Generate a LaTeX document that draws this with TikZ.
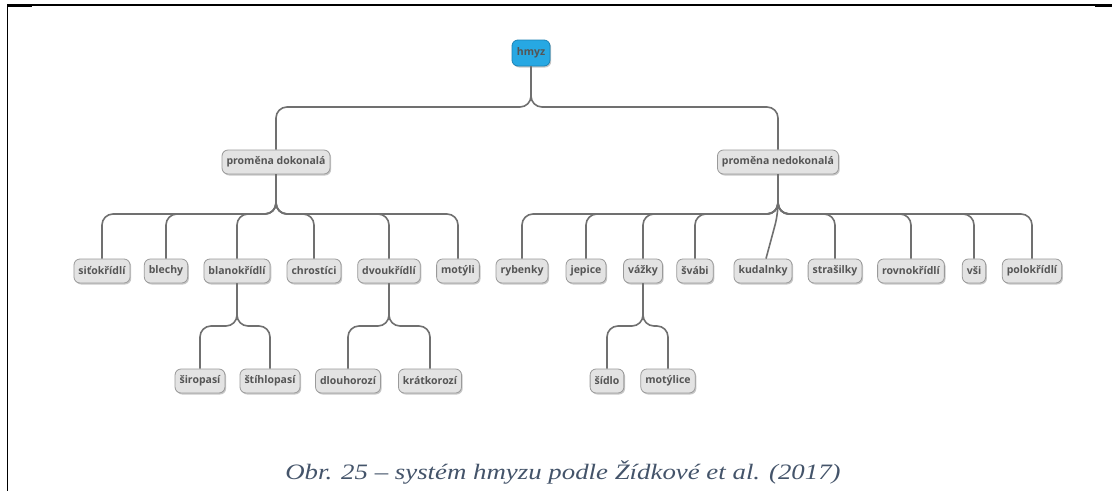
\documentclass[tikz,border=0pt]{standalone}
\usepackage{fontspec}
\setmainfont{Liberation Serif}
\newfontfamily\mapfont{Open Sans}
\usetikzlibrary{shadows}
\definecolor{boxfill}{HTML}{E3E3E3}
\definecolor{boxline}{HTML}{9A9A9A}
\definecolor{boxtext}{HTML}{555555}
\definecolor{rootfill}{HTML}{27A8E3}
\definecolor{rootline}{HTML}{1B82B5}
\definecolor{linkcol}{HTML}{707070}
\definecolor{captioncol}{HTML}{44546A}
\tikzset{
  topic/.style={draw=boxline, line width=0.8pt, fill=boxfill, rounded corners=6pt,
    text=boxtext, font=\mapfont\bfseries\fontsize{10.5}{12}\selectfont,
    minimum height=24pt, inner xsep=4.5pt, inner ysep=2pt,
    drop shadow={shadow xshift=1.2pt, shadow yshift=-1.5pt, fill=black, opacity=0.22}},
  roottopic/.style={topic, draw=rootline, fill=rootfill, text=boxtext,
    minimum height=26pt, minimum width=38pt},
  link/.style={draw=linkcol, line width=1.6pt, rounded corners=11pt},
  frameline/.style={draw=black, line width=1.4pt}
}
\begin{document}
\begin{tikzpicture}[x=1pt, y=-1pt]
\useasboundingbox (0,0) rectangle (1112,491);
\fill[white] (0,0) rectangle (1112,491);

% table frame
\draw[frameline] (7.5,5) -- (1112,5);
\draw[frameline] (7.5,5) -- (7.5,491);
\draw[black, line width=3pt] (7,5.5) -- (32,5.5);
\draw[black, line width=3pt] (1095,5.5) -- (1112,5.5);

% bus levels
\coordinate (b1) at (0,107);
\coordinate (b2) at (0,214);
\coordinate (b3) at (0,326);

% root and first level
\node[roottopic] (hmyz) at (531,53) {hmyz};
\node[topic] (pd) at (276,162) {proměna dokonalá};
\node[topic] (pn) at (778,162) {proměna nedokonalá};

% second level, complete metamorphosis
\node[topic] (sit) at (102,271) {siťokřídlí};
\node[topic] (ble) at (166,271) {blechy};
\node[topic] (bla) at (237,271) {blanokřídlí};
\node[topic] (chr) at (314,271) {chrostíci};
\node[topic] (dvo) at (389,271) {dvoukřídlí};
\node[topic] (mot) at (458,271) {motýli};

% second level, incomplete metamorphosis
\node[topic] (ryb) at (522,271) {rybenky};
\node[topic] (jep) at (586,271) {jepice};
\node[topic] (vaz) at (643,271) {vážky};
\node[topic] (sva) at (695,271) {švábi};
\node[topic] (kud) at (763,271) {kudalnky};
\node[topic] (str) at (835,271) {strašilky};
\node[topic] (rov) at (911,271) {rovnokřídlí};
\node[topic] (vsi) at (974,271) {vši};
\node[topic] (pol) at (1032,271) {polokřídlí};

% third level
\node[topic] (sir) at (200,381) {širopasí};
\node[topic] (sti) at (270,381) {štíhlopasí};
\node[topic] (dlo) at (348,381) {dlouhorozí};
\node[topic] (kra) at (430,381) {krátkorozí};
\node[topic] (sid) at (607,381) {šídlo};
\node[topic] (mtl) at (668,381) {motýlice};

% connectors
\foreach \c in {pd,pn}
  \draw[link] (hmyz.south) -- (hmyz.south |- b1) -| (\c.north);
\foreach \c in {sit,ble,bla,chr,dvo,mot}
  \draw[link] (pd.south) -- (pd.south |- b2) -| (\c.north);
\foreach \c in {ryb,jep,vaz,sva,str,rov,vsi,pol}
  \draw[link] (pn.south) -- (pn.south |- b2) -| (\c.north);
\draw[link] (pn.south) -- (pn.south |- b2) -- ([xshift=3pt]kud.north);
\foreach \c in {sir,sti}
  \draw[link] (bla.south) -- (bla.south |- b3) -| (\c.north);
\foreach \c in {dlo,kra}
  \draw[link] (dvo.south) -- (dvo.south |- b3) -| (\c.north);
\foreach \c in {sid,mtl}
  \draw[link] (vaz.south) -- (vaz.south |- b3) -| (\c.north);

% caption
\node[text=captioncol, font=\itshape\fontsize{22}{26}\selectfont] (cap) at (563,472)
  {\scalebox{1.22}[1]{Obr. 25 – systém hmyzu podle Žídkové et al. (2017)}};
\end{tikzpicture}
\end{document}
